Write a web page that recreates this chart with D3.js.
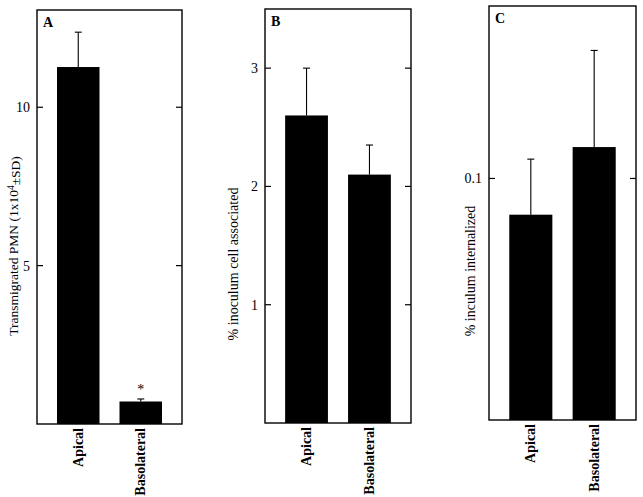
<!DOCTYPE html>
<html lang="en">
<head>
    <meta charset="UTF-8">
    <title>Transmigration and invasion</title>
    <style>
        body { margin: 0; background: #fff; }
        svg text { font-family: "Liberation Serif", "DejaVu Serif", serif; fill: #000; }
        .frame { fill: none; stroke: #000; stroke-width: 1.4px; }
        .tick-mark { stroke: #000; stroke-width: 1.2px; }
        .bar { fill: #000; }
        .err { stroke: #000; stroke-width: 1.1px; }
    </style>
    <script src="https://d3js.org/d3.v7.min.js"></script>
</head>
<body>
    <svg width="643" height="497"></svg>

    <script>
        // Data
        const categories = ["Apical", "Basolateral"];

        const pmnMean = [11.27, 0.71];
        const pmnSD = [1.10, 0.08];

        const assocMean = [2.60, 2.10];
        const assocSD = [0.40, 0.25];

        const internMean = [0.085, 0.113];
        const internSD = [0.023, 0.040];

        const pmnTicks = [5, 10];
        const assocTicks = [1, 2, 3];
        const internTicks = [0.1];

        const panels = [
            {letter: "A", mean: pmnMean, sd: pmnSD, ticks: pmnTicks, max: 13.07,
             label: "Transmigrated PMN (1x10", sup: "4", labelEnd: "±SD)", labelSize: 13.5,
             box: {left: 37, right: 182, top: 10, bottom: 424}, labelX: 18, labelY: 246,
             marks: ["", "*"]},
            {letter: "B", mean: assocMean, sd: assocSD, ticks: assocTicks, max: 3.5,
             label: "% inoculum cell associated", labelSize: 14,
             box: {left: 265, right: 411, top: 9, bottom: 423}, labelX: 238, labelY: 264,
             marks: ["", ""]},
            {letter: "C", mean: internMean, sd: internSD, ticks: internTicks, max: 0.1714,
             label: "% inculum internalized", labelSize: 14,
             box: {left: 489, right: 636, top: 6, bottom: 420}, labelX: 475, labelY: 271,
             marks: ["", ""]}
        ];

        const svg = d3.select("svg");

        panels.forEach(p => {
            const b = p.box;
            const g = svg.append("g");

            const x = d3.scaleBand()
                .domain(categories)
                .range([b.left, b.right])
                .paddingInner(0.32)
                .paddingOuter(0.32);

            const y = d3.scaleLinear()
                .domain([0, p.max])
                .range([b.bottom, b.top]);

            // bars
            g.selectAll(".bar")
                .data(categories)
                .join("rect")
                .attr("class", "bar")
                .attr("x", d => x(d))
                .attr("width", x.bandwidth())
                .attr("y", (d, i) => y(p.mean[i]))
                .attr("height", (d, i) => y(0) - y(p.mean[i]));

            // error bars (upper only)
            const capW = 7;
            categories.forEach((c, i) => {
                const cx = x(c) + x.bandwidth() / 2;
                const top = y(p.mean[i] + p.sd[i]);
                g.append("line").attr("class", "err")
                    .attr("x1", cx).attr("x2", cx)
                    .attr("y1", y(p.mean[i])).attr("y2", top);
                g.append("line").attr("class", "err")
                    .attr("x1", cx - capW / 2).attr("x2", cx + capW / 2)
                    .attr("y1", top).attr("y2", top);
                if (p.marks[i]) {
                    g.append("text")
                        .attr("x", cx)
                        .attr("y", top - 5)
                        .attr("text-anchor", "middle")
                        .style("font-size", "14px")
                        .text(p.marks[i]);
                }
            });

            // frame
            g.append("rect").attr("class", "frame")
                .attr("x", b.left).attr("y", b.top)
                .attr("width", b.right - b.left)
                .attr("height", b.bottom - b.top);

            // inward ticks on both sides
            p.ticks.forEach(t => {
                g.append("line").attr("class", "tick-mark")
                    .attr("x1", b.left).attr("x2", b.left + 6)
                    .attr("y1", y(t)).attr("y2", y(t));
                g.append("line").attr("class", "tick-mark")
                    .attr("x1", b.right - 6).attr("x2", b.right)
                    .attr("y1", y(t)).attr("y2", y(t));
                g.append("text")
                    .attr("x", b.left - 7)
                    .attr("y", y(t))
                    .attr("dy", "0.35em")
                    .attr("text-anchor", "end")
                    .style("font-size", "14px")
                    .text(t);
            });

            // panel letter
            g.append("text")
                .attr("x", b.left + 6)
                .attr("y", b.top + 17)
                .style("font-size", "14px")
                .style("font-weight", "bold")
                .text(p.letter);

            // category labels
            categories.forEach(c => {
                const cx = x(c) + x.bandwidth() / 2 + 4.5;
                g.append("text")
                    .attr("transform", `translate(${cx},${b.bottom + 4}) rotate(-90)`)
                    .attr("text-anchor", "end")
                    .style("font-size", "14px")
                    .style("font-weight", "bold")
                    .text(c);
            });

            // y axis title
            const yl = g.append("text")
                .attr("transform", `translate(${p.labelX},${p.labelY}) rotate(-90)`)
                .attr("text-anchor", "middle")
                .style("font-size", p.labelSize + "px")
                .text(p.label);
            if (p.sup) {
                yl.append("tspan").attr("dy", "-0.45em").style("font-size", "9.5px").text(p.sup);
                yl.append("tspan").attr("dy", "0.45em").text(p.labelEnd);
            }
        });
    </script>
</body>
</html>
